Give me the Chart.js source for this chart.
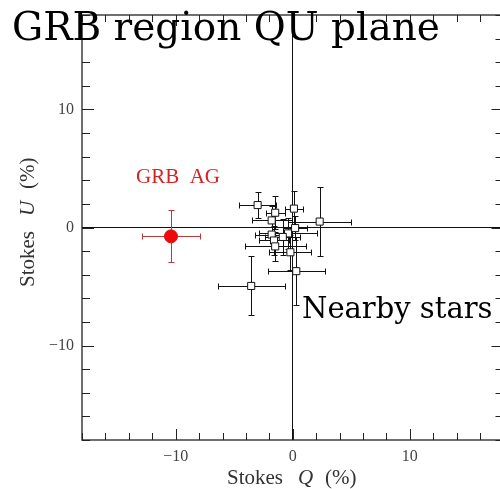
<!DOCTYPE html>
<html>
<head>
<meta charset="utf-8">
<script src="https://cdn.jsdelivr.net/npm/chart.js@4.4.0/dist/chart.umd.min.js"></script>
<style>
html, body { margin: 0; padding: 0; background: #fff; overflow: hidden; }
canvas { display: block; }
</style>
</head>
<body>
<canvas id="qu" width="511" height="489"></canvas>
<script>
// nearby field stars (Stokes Q, U in %)
const starQ    = [-3.0, 0.1, -1.5, 2.3, -1.8, 0.2, -0.4, -0.85, -1.8, -1.6, -1.5, -0.2, 0.3, -3.55];
const starU    = [1.9, 1.6, 1.25, 0.5, 0.6, -0.05, -0.5, -0.8, -0.6, -1.1, -1.6, -2.1, -3.7, -4.95];
const starQErr = [1.6, 0.8, 0.8, 2.7, 1.7, 1.0, 2.5, 1.5, 1.4, 1.3, 2.6, 1.8, 2.45, 2.85];
const starUErr = [1.1, 1.5, 1.4, 2.9, 1.2, 1.0, 1.3, 1.5, 1.0, 1.2, 1.2, 1.5, 2.9, 2.5];

// GRB afterglow
const grbQ    = [-10.4];
const grbU    = [-0.75];
const grbQErr = [2.5];
const grbUErr = [2.2];

// axes
const axisMin = -18;
const axisMax = 18;
const minorStep = 2;
const majorStep = 10;

const toPoints = (qs, us) => qs.map((q, i) => ({ x: q, y: us[i] }));
const tickLabel = v => (v % majorStep === 0 ? (v < 0 ? '\u2212' + Math.abs(v) : String(v)) : '');
const crisp = v => Math.round(v) + 0.5;

// error bars drawn through the scales
const errorBars = {
    id: 'errorBars',
    beforeDatasetsDraw(chart) {
        const ctx = chart.ctx;
        const xs = chart.scales.x, ys = chart.scales.y;
        chart.data.datasets.forEach(ds => {
            ctx.save();
            ctx.strokeStyle = ds.errColor;
            ctx.lineWidth = 1;
            ctx.beginPath();
            ds.data.forEach((p, i) => {
                const x = crisp(xs.getPixelForValue(p.x));
                const y = crisp(ys.getPixelForValue(p.y));
                const x0 = crisp(xs.getPixelForValue(p.x - ds.xErr[i]));
                const x1 = crisp(xs.getPixelForValue(p.x + ds.xErr[i]));
                const y0 = crisp(ys.getPixelForValue(p.y - ds.yErr[i]));
                const y1 = crisp(ys.getPixelForValue(p.y + ds.yErr[i]));
                const c = ds.capSize;
                ctx.moveTo(x0, y); ctx.lineTo(x1, y);
                ctx.moveTo(x, y0); ctx.lineTo(x, y1);
                ctx.moveTo(x0, y - c); ctx.lineTo(x0, y + c);
                ctx.moveTo(x1, y - c); ctx.lineTo(x1, y + c);
                ctx.moveTo(x - c, y0); ctx.lineTo(x + c, y0);
                ctx.moveTo(x - c, y1); ctx.lineTo(x + c, y1);
            });
            ctx.stroke();
            ctx.restore();
        });
    }
};

// box frame with inward ticks on all four sides
const frame = {
    id: 'frame',
    beforeDatasetsDraw(chart) {
        const ctx = chart.ctx;
        const a = chart.chartArea;
        const xs = chart.scales.x, ys = chart.scales.y;
        ctx.save();
        ctx.strokeStyle = '#222';
        ctx.lineWidth = 1.3;
        ctx.strokeRect(a.left, a.top, a.right - a.left, a.bottom - a.top);
        ctx.lineWidth = 1;
        ctx.beginPath();
        xs.ticks.forEach(t => {
            const len = t.value % majorStep === 0 ? 11 : 7;
            const x = crisp(xs.getPixelForValue(t.value));
            ctx.moveTo(x, a.bottom); ctx.lineTo(x, a.bottom - len);
            ctx.moveTo(x, a.top); ctx.lineTo(x, a.top + len);
        });
        ys.ticks.forEach(t => {
            const len = t.value % majorStep === 0 ? 12 : 8;
            const y = crisp(ys.getPixelForValue(t.value));
            ctx.moveTo(a.left, y); ctx.lineTo(a.left + len, y);
            ctx.moveTo(a.right, y); ctx.lineTo(a.right - len, y);
        });
        ctx.stroke();
        ctx.restore();
    }
};

// title, axis titles and annotations
const labels = {
    id: 'labels',
    afterDraw(chart) {
        const ctx = chart.ctx;
        ctx.save();
        ctx.textBaseline = 'alphabetic';
        ctx.textAlign = 'left';

        ctx.fillStyle = '#000';
        ctx.font = '39px "DejaVu Serif"';
        ctx.fillText('GRB region QU plane', 12, 40);

        ctx.font = '29px "DejaVu Serif"';
        ctx.fillText('Nearby stars', 302, 318);

        ctx.fillStyle = '#d42323';
        ctx.font = '21px "Liberation Serif"';
        ctx.fillText('GRB  AG', 136, 183);

        // axis titles
        const axisTitle = (letter) => {
            ctx.fillStyle = '#333';
            ctx.font = '21px "Liberation Serif"';
            ctx.fillText('Stokes', 0, 0);
            ctx.font = 'italic 21px "Liberation Serif"';
            ctx.fillText(letter, 71, 0);
            ctx.font = '21px "Liberation Serif"';
            ctx.fillText('(%)', 98, 0);
        };
        ctx.save();
        ctx.translate(227, 484);
        axisTitle('Q');
        ctx.restore();

        ctx.save();
        ctx.translate(34, 287);
        ctx.rotate(-Math.PI / 2);
        axisTitle('U');
        ctx.restore();

        ctx.restore();
    }
};

const axisOpts = (padding) => ({
    type: 'linear',
    min: axisMin,
    max: axisMax,
    grid: {
        drawTicks: false,
        color: c => (c.tick && c.tick.value === 0 ? '#111' : 'rgba(0,0,0,0)'),
        lineWidth: 1
    },
    border: { display: false },
    ticks: {
        stepSize: minorStep,
        autoSkip: false,
        maxRotation: 0,
        minRotation: 0,
        padding: padding,
        color: '#444',
        font: { family: '"Liberation Serif"', size: 16 },
        callback: tickLabel
    }
});

// fixed plot box: left 82, top 15, bottom 440, right edge just past the window
const xOpts = axisOpts(7);
xOpts.afterFit = s => { s.height = 49; s.paddingLeft = 0; s.paddingRight = 0; };
const yOpts = axisOpts(8);
yOpts.afterFit = s => { s.width = 82; s.paddingTop = 0; s.paddingBottom = 0; };

new Chart(document.getElementById('qu').getContext('2d'), {
    type: 'scatter',
    data: {
        datasets: [
            {
                label: 'Nearby stars',
                data: toPoints(starQ, starU),
                xErr: starQErr,
                yErr: starUErr,
                errColor: '#111',
                capSize: 3,
                pointStyle: 'rect',
                pointRadius: 5,
                pointBackgroundColor: '#fff',
                pointBorderColor: '#111',
                pointBorderWidth: 1
            },
            {
                label: 'GRB AG',
                data: toPoints(grbQ, grbU),
                xErr: grbQErr,
                yErr: grbUErr,
                errColor: '#b83a3a',
                capSize: 3,
                pointStyle: 'circle',
                pointRadius: 6.5,
                pointBackgroundColor: '#ee0a0a',
                pointBorderColor: '#dd1111',
                pointBorderWidth: 1
            }
        ]
    },
    options: {
        responsive: false,
        animation: false,
        layout: { padding: { top: 15, right: 4, left: 0, bottom: 0 } },
        scales: { x: xOpts, y: yOpts },
        plugins: {
            legend: { display: false },
            tooltip: { enabled: false }
        }
    },
    plugins: [frame, errorBars, labels]
});
</script>
</body>
</html>
